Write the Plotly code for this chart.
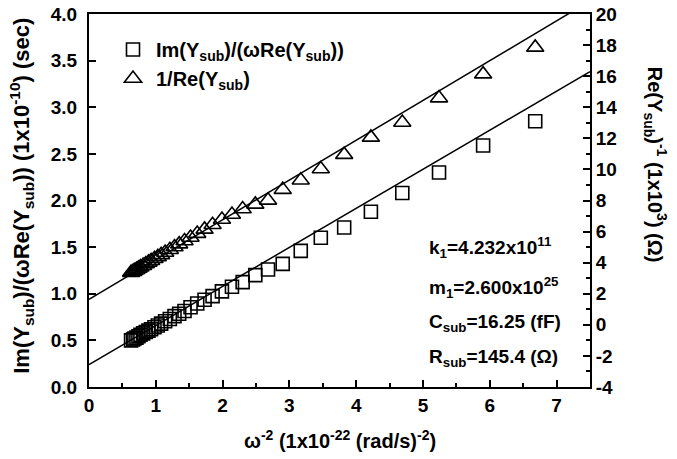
import plotly.graph_objects as go

# omega^-2 (1e-22 (rad/s)^-2)
x_vals = [0.63, 0.66, 0.68, 0.71, 0.74, 0.77, 0.81, 0.85, 0.89, 0.93, 0.98, 1.03,
          1.08, 1.14, 1.21, 1.28, 1.35, 1.43, 1.52, 1.62, 1.73, 1.85, 1.99, 2.14,
          2.30, 2.49, 2.68, 2.90, 3.17, 3.47, 3.82, 4.22, 4.69, 5.24, 5.90, 6.68]
# Im(Ysub)/(w Re(Ysub)) (1e-10 s)  -- left axis
im_over_re = [0.50, 0.51, 0.52, 0.53, 0.545, 0.56, 0.575, 0.59, 0.605, 0.62, 0.64, 0.66,
              0.68, 0.705, 0.73, 0.76, 0.785, 0.815, 0.855, 0.895, 0.935, 0.975, 1.025, 1.075,
              1.125, 1.20, 1.26, 1.32, 1.46, 1.60, 1.71, 1.88, 2.08, 2.30, 2.59, 2.85]
# 1/Re(Ysub) (1e3 ohm) -- right axis
inv_re = [3.36, 3.42, 3.48, 3.55, 3.63, 3.71, 3.81, 3.91, 4.02, 4.12, 4.25, 4.37,
          4.50, 4.65, 4.83, 5.01, 5.19, 5.39, 5.62, 5.87, 6.14, 6.44, 6.78, 7.10,
          7.45, 7.75, 8.01, 8.70, 9.30, 10.03, 10.95, 12.06, 13.02, 14.59, 16.13, 17.85]

# linear fits (intercept, slope)
fit_im = (0.24, 0.419)
fit_re = (1.64, 2.56)
fit_x = [0.0, 7.5]

x_ticks = [0, 1, 2, 3, 4, 5, 6, 7]
y_ticks = [0.0, 0.5, 1.0, 1.5, 2.0, 2.5, 3.0, 3.5, 4.0]
y2_ticks = [-4, -2, 0, 2, 4, 6, 8, 10, 12, 14, 16, 18, 20]

FONT = "Liberation Sans, Arial, sans-serif"
tickfont = dict(family=FONT, size=19, color="black", weight="bold")

L, R, T, B = 89, 87, 14, 71.5
PW, PH = 677 - L - R, 459 - T - B


def px(xp):
    return (xp - L) / PW


def py(yp):
    return (459 - B - yp) / PH


fig = go.Figure()
fig.add_trace(go.Scatter(
    x=fit_x, y=[fit_im[0] + fit_im[1] * v for v in fit_x], mode="lines",
    line=dict(color="black", width=1.5), showlegend=False, hoverinfo="skip"))
fig.add_trace(go.Scatter(
    x=fit_x, y=[fit_re[0] + fit_re[1] * v for v in fit_x], mode="lines",
    line=dict(color="black", width=1.5), showlegend=False, yaxis="y2", hoverinfo="skip"))
fig.add_trace(go.Scatter(
    x=x_vals, y=im_over_re, mode="markers",
    name="Im(Y<sub>sub</sub>)/(ωRe(Y<sub>sub</sub>))",
    marker=dict(symbol="square-open", size=13, color="black", line=dict(width=1.6))))
fig.add_trace(go.Scatter(
    x=x_vals, y=inv_re, mode="markers", yaxis="y2",
    name="1/Re(Y<sub>sub</sub>)",
    marker=dict(symbol="triangle-up-open", size=15, color="black", line=dict(width=1.6))))

ann_font = dict(family=FONT, size=19, color="black", weight="bold")
notes = [("k<sub>1</sub>=4.232x10<sup>11</sup>", 248),
         ("m<sub>1</sub>=2.600x10<sup>25</sup>", 288),
         ("C<sub>sub</sub>=16.25 (fF)", 323),
         ("R<sub>sub</sub>=145.4 (Ω)", 358)]
annotations = []
for txt, yp in notes:
    annotations.append(dict(text=txt, xref="paper", yref="paper",
                            x=px(427), y=py(yp),
                            xanchor="left", yanchor="middle", showarrow=False,
                            font=ann_font))
annotations.append(dict(
    text="Im(Y<sub>sub</sub>)/(ωRe(Y<sub>sub</sub>)) (1x10<sup>-10</sup>) (sec)",
    xref="paper", yref="paper", x=px(22), y=py(196),
    textangle=-90, showarrow=False, xanchor="center", yanchor="middle",
    font=dict(family=FONT, size=22, color="black", weight="bold")))
annotations.append(dict(
    text="Re(Y<sub>sub</sub>)<sup>-1</sup> (1x10<sup>3</sup>) (Ω)",
    xref="paper", yref="paper", x=px(655), y=py(165),
    textangle=90, showarrow=False, xanchor="center", yanchor="middle",
    font=dict(family=FONT, size=20, color="black", weight="bold")))
annotations.append(dict(
    text="ω<sup>-2</sup> (1x10<sup>-22</sup> (rad/s)<sup>-2</sup>)",
    xref="paper", yref="paper", x=px(340), y=py(440),
    showarrow=False, xanchor="center", yanchor="middle",
    font=dict(family=FONT, size=20, color="black", weight="bold")))

axis_common = dict(showline=True, linecolor="black", linewidth=2,
                   ticks="inside", ticklen=7, tickwidth=1.5, tickcolor="black",
                   showgrid=False, zeroline=False, tickfont=tickfont, automargin=False)

fig.update_layout(
    width=677, height=459,
    margin=dict(l=L, r=R, t=T, b=B, autoexpand=False),
    plot_bgcolor="white", paper_bgcolor="white",
    showlegend=True,
    legend=dict(x=px(110), y=py(30), xanchor="left", yanchor="top",
                font=dict(family=FONT, size=20, color="black", weight="bold"),
                bgcolor="rgba(0,0,0,0)", tracegroupgap=4, itemwidth=36),
    xaxis=dict(range=[0, 7.5], tickvals=x_ticks, ticktext=[str(v) for v in x_ticks],
               mirror=True,
               minor=dict(ticks="inside", dtick=0.5, ticklen=4, tickwidth=1.5, tickcolor="black"),
               **axis_common),
    yaxis=dict(range=[0, 4], tickvals=y_ticks, ticktext=["%.1f" % v for v in y_ticks],
               ticklabelstandoff=6, **axis_common),
    yaxis2=dict(range=[-4, 20], tickvals=y2_ticks, ticktext=[str(v) for v in y2_ticks],
                overlaying="y", side="right",
                minor=dict(ticks="inside", dtick=1, ticklen=4, tickwidth=1.5, tickcolor="black"),
                **axis_common),
    annotations=annotations,
)

fig.write_html("out.html", config={"displayModeBar": False},
               post_script="document.body.style.margin='0';")
